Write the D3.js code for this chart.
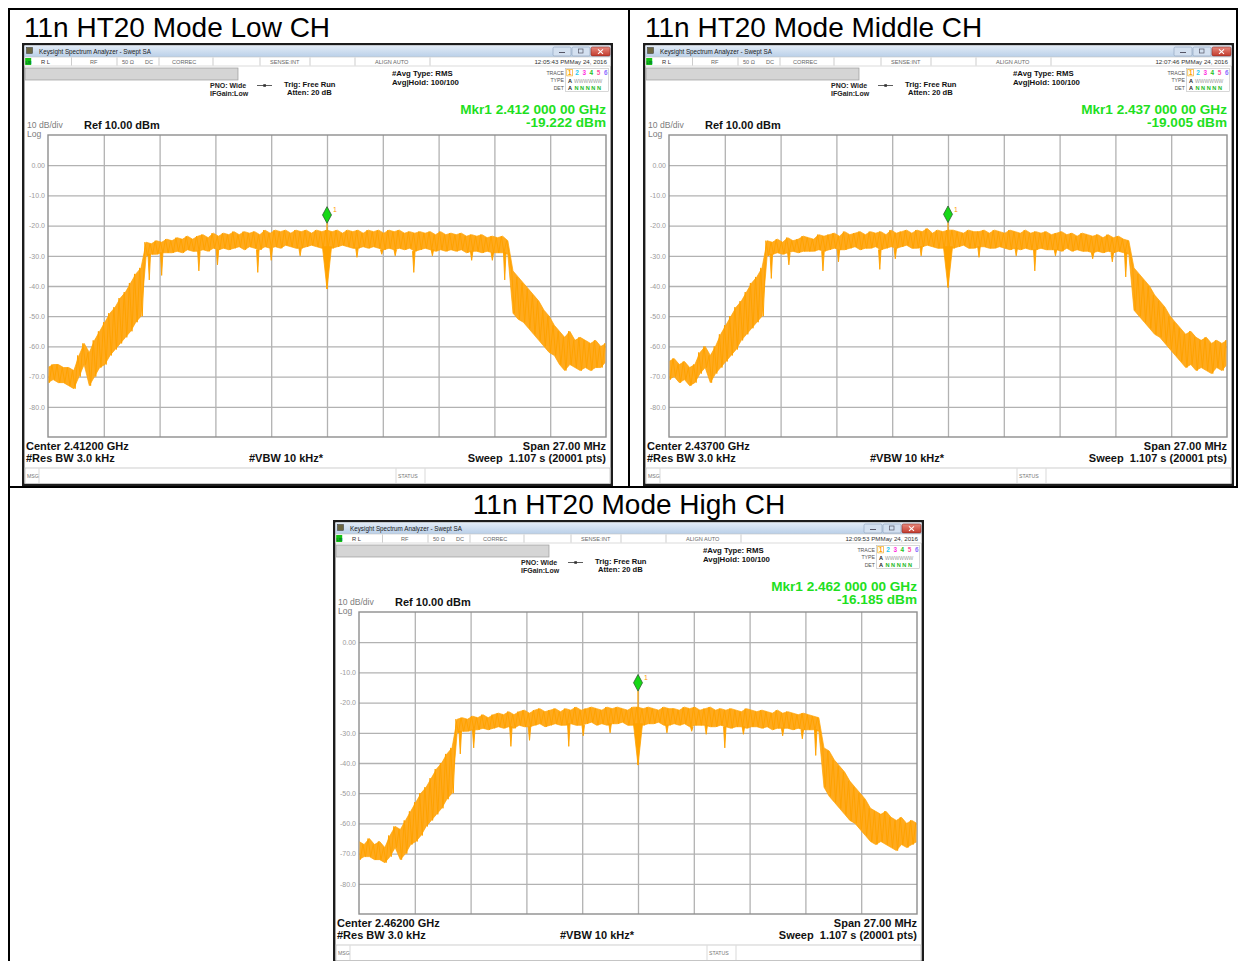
<!DOCTYPE html>
<html>
<head>
<meta charset="utf-8">
<script src="https://cdn.jsdelivr.net/npm/d3@7"></script>
<style>
  body { margin: 0; background: #fff; }
  svg { display: block; }
  text { font-family: "Liberation Sans", Arial, Helvetica, sans-serif; }
</style>
</head>
<body>
<svg id="sheet" width="1239" height="961"></svg>
<script>
// ---- Sweep grid: 27 MHz span around the channel centre, one bin per 0.25 MHz ----
const sweepMHz = d3.range(-13.5, 13.5 + 1e-9, 0.25);
const BIN = 0.25;

// Y axis: Ref 10 dBm, 10 dB/div
const yTickValues = [0, -10, -20, -30, -40, -50, -60, -70, -80];
const yTickLabels = ["0.00", "-10.0", "-20.0", "-30.0", "-40.0", "-50.0", "-60.0", "-70.0", "-80.0"];
const xDivisions = [-10.8, -8.1, -5.4, -2.7, 0, 2.7, 5.4, 8.1, 10.8];

// ---- Low channel (2412 MHz): per-bin peak / valley of the trace, dBm ----
const lowPeak = [
  -67, -66, -66, -67, -67, -68, -63, -59, -62, -58, -55, -52, -49, -47, -44, -42, -39, -36, -34,
  -25.5, -26, -25, -25.5, -24.5, -25, -24, -24.5, -23.5, -24.5, -23.5, -23, -24, -22.5, -23.5, -22.5, -23, -22, -23, -22, -22.5, -22, -23, -21.5, -22.5, -21.5, -22, -21.5, -22.5, -21.5, -22, -21.5, -22.5, -21.5, -22,
  -21.5,
  -22, -21.5, -22.5, -21.5, -22, -21.5, -22.5, -21.5, -22, -21.5, -22.5, -21.5, -22, -21.5, -22.5, -22, -22.5, -22, -22.5, -22, -23, -22, -23, -22.5, -23, -22.5, -23.5, -23, -23.5, -23, -24, -23.5, -24, -23.5, -25,
  -35, -37, -39, -41, -43, -45, -48, -50, -53, -55, -57, -55, -58, -57, -58, -59, -58, -60, -59
];
const lowValley = [
  -72, -71, -72, -72, -73, -74, -70, -66, -73, -70, -67, -66, -63, -61, -59, -57, -55, -52, -50,
  -30, -29.5, -29.5, -29, -29, -29, -28.5, -29, -28, -28.5, -28.5, -28, -28.5, -27.5, -28, -27.5, -28, -27.5, -27, -28, -27, -27.5, -28, -27, -27.5, -27, -27.5, -26.5, -27, -27.5, -27.5, -27, -26.5, -27, -27.5,
  -27,
  -27.5, -27, -26.5, -27, -27.5, -27.5, -27, -27.5, -27, -27.5, -28, -27.5, -28, -27.5, -28, -27.5, -28.5, -28, -27.5, -28, -28.5, -28, -28.5, -28, -28.5, -28, -29, -28.5, -28.5, -29, -28.5, -29, -29, -29, -29.5,
  -49, -51, -52, -54, -56, -58, -60, -62, -63, -66, -68, -66, -67, -68, -67, -68, -67, -67, -65
];
const lowDipMHz = [-8.6, -8.0, -6.2, -5.3, -3.35, -2.7, -1.3, 1.45, 2.65, 3.3, 4.2, 5.1, 7.0, 8.0, 8.6];
const lowDipDbm = [-38, -36.5, -35, -33, -35.5, -31.5, -30, -30.5, -29.5, -30, -35.5, -30, -31.5, -31.5, -38];
const lowCentreDip = -41;
const lowMarker = -19.222;

// ---- Middle channel (2437 MHz) ----
const midPeak = [
  -65, -64, -66, -65, -67, -66, -62, -60, -63, -60, -56, -53, -50, -47, -45, -42, -39, -37, -34,
  -25, -25.5, -24.5, -25.5, -24, -25, -24.5, -23.5, -24, -24.5, -23, -23.5, -23, -22.5, -23.5, -22, -23, -22.5, -22, -23, -22, -22.5, -22, -23, -21.5, -22.5, -22, -21.5, -22.5, -21.5, -22, -21, -22.5, -21.5, -22,
  -21.5,
  -21.5, -22, -22.5, -21.5, -22, -22, -21.5, -22.5, -21.5, -22, -22.5, -21.5, -22, -22.5, -21.5, -22.5, -22, -22.5, -22, -23, -22.5, -22, -23, -22.5, -23.5, -22.5, -23, -23.5, -23, -24, -23, -24, -23.5, -24.5, -25,
  -34, -36, -38, -40, -43, -45, -47, -50, -52, -54, -56, -55, -57, -58, -57, -59, -58, -59, -58
];
const midValley = [
  -71, -70, -72, -71, -73, -72, -69, -67, -72, -69, -67, -65, -63, -61, -58, -56, -54, -52, -50,
  -30, -29.5, -29, -29.5, -29, -28.5, -29, -28.5, -28.5, -28.5, -28, -28.5, -28, -27.5, -28, -28, -27.5, -27, -28, -27.5, -27.5, -27, -28, -27.5, -27, -27.5, -27, -26.5, -27.5, -27.5, -27, -26.5, -27, -27.5, -27.5,
  -27,
  -27.5, -27, -26.5, -27.5, -27.5, -27, -27, -27.5, -27.5, -27, -27.5, -28, -27.5, -28, -27.5, -28, -28, -27.5, -28, -28, -28, -28.5, -27.5, -28.5, -28, -28.5, -28.5, -29, -28.5, -29, -28.5, -29, -28.5, -29, -29.5,
  -48, -50, -52, -54, -56, -57, -59, -61, -63, -65, -67, -66, -68, -67, -68, -69, -67, -68, -66
];
const midDipMHz = [-8.55, -7.7, -6.05, -5.3, -3.3, -2.55, -1.3, 1.5, 3.3, 4.2, 5.2, 7.0, 7.95, 8.6];
const midDipDbm = [-37.5, -33, -35, -32, -34.5, -31, -30, -30.5, -30, -35, -30, -31, -32, -37];
const midCentreDip = -40.5;
const midMarker = -19.005;

// ---- High channel (2462 MHz) ----
const highPeak = [
  -66, -67, -65, -67, -66, -68, -64, -61, -62, -59, -56, -53, -50, -48, -45, -42, -40, -37, -35,
  -25.5, -25, -25.5, -24.5, -25, -24, -25, -24, -23.5, -24, -23, -24, -23, -22.5, -23.5, -22.5, -22, -23, -22.5, -22, -23, -22, -22.5, -21.5, -22.5, -22, -21.5, -22, -22.5, -21.5, -22, -21.5, -22, -22.5, -21.5,
  -21.5,
  -22, -21.5, -22, -22.5, -21.5, -22, -22, -22.5, -21.5, -22, -21.5, -22.5, -22, -21.5, -22.5, -22, -22.5, -22, -22.5, -23, -22, -22.5, -23, -22.5, -23, -23.5, -22.5, -23.5, -23, -23.5, -24, -23.5, -24, -24.5, -25,
  -35, -36, -39, -41, -43, -46, -48, -50, -52, -55, -56, -57, -56, -58, -59, -58, -60, -59, -60
];
const highValley = [
  -72, -71, -71, -72, -72, -73, -71, -68, -72, -70, -67, -66, -64, -61, -59, -57, -55, -52, -50,
  -30, -29.5, -29.5, -29, -29, -28.5, -29, -28.5, -28, -28.5, -28, -28.5, -27.5, -28, -28, -27.5, -27, -28, -27.5, -27, -27.5, -27.5, -27, -27.5, -27.5, -27, -26.5, -27.5, -27, -27.5, -27, -27, -26.5, -27.5, -27.5,
  -27,
  -27.5, -27, -27, -26.5, -27.5, -27.5, -27, -27.5, -27, -28, -27.5, -27.5, -27.5, -28, -28, -27.5, -28, -28.5, -28, -28, -28.5, -28, -28, -28.5, -28, -29, -28.5, -28.5, -28.5, -29, -28.5, -29, -29, -29, -29.5,
  -48, -51, -53, -55, -57, -59, -60, -62, -64, -66, -67, -66, -67, -68, -69, -67, -68, -67, -66
];
const highDipMHz = [-8.6, -7.95, -6.15, -5.25, -3.35, -2.65, -1.35, 1.4, 2.6, 3.3, 4.2, 5.1, 7.0, 7.95, 8.6];
const highDipDbm = [-37, -35, -34.5, -32.5, -34.5, -31, -30, -30, -29.5, -30.5, -35, -30.5, -31, -32, -37.5];
const highCentreDip = -40.7;
const highMarker = -16.185;

const captions = ["11n HT20 Mode Low CH", "11n HT20 Mode Middle CH", "11n HT20 Mode High CH"];

const panels = [
  { ox: 22, oy: 43, centre: "2.41200", mkrFreq: "2.412 000 00", time: "12:05:43 PM",
    peak: lowPeak, valley: lowValley, dipF: lowDipMHz, dipL: lowDipDbm, centreDip: lowCentreDip, marker: lowMarker },
  { ox: 643, oy: 43, centre: "2.43700", mkrFreq: "2.437 000 00", time: "12:07:46 PM",
    peak: midPeak, valley: midValley, dipF: midDipMHz, dipL: midDipDbm, centreDip: midCentreDip, marker: midMarker },
  { ox: 333, oy: 520, centre: "2.46200", mkrFreq: "2.462 000 00", time: "12:09:53 PM",
    peak: highPeak, valley: highValley, dipF: highDipMHz, dipL: highDipDbm, centreDip: highCentreDip, marker: highMarker }
];
panels.forEach(p => {
  if (p.peak.length !== sweepMHz.length || p.valley.length !== sweepMHz.length)
    throw new Error("trace length " + p.peak.length + "/" + p.valley.length);
});

const ORANGE = "#ffa200";
const ORANGE_FILL = "#ffaa1e";
const MKR_GREEN = "#1ee01e";
const svg = d3.select("#sheet");

// shared gradients
const defs = svg.append("defs");
const tb = defs.append("linearGradient").attr("id", "titlebar").attr("x1", 0).attr("y1", 0).attr("x2", 0).attr("y2", 1);
tb.append("stop").attr("offset", "0%").attr("stop-color", "#e3ecf7");
tb.append("stop").attr("offset", "100%").attr("stop-color", "#b9cfe8");
const cb = defs.append("linearGradient").attr("id", "closebtn").attr("x1", 0).attr("y1", 0).attr("x2", 0).attr("y2", 1);
cb.append("stop").attr("offset", "0%").attr("stop-color", "#e8897e");
cb.append("stop").attr("offset", "100%").attr("stop-color", "#c23a2c");

// ---- Document table ----
const table = svg.append("g").attr("stroke", "#000").attr("stroke-width", 2);
table.append("line").attr("x1", 8).attr("y1", 9).attr("x2", 1238).attr("y2", 9);
table.append("line").attr("x1", 9).attr("y1", 8).attr("x2", 9).attr("y2", 961);
table.append("line").attr("x1", 629).attr("y1", 8).attr("x2", 629).attr("y2", 487);
table.append("line").attr("x1", 8).attr("y1", 487).attr("x2", 1238).attr("y2", 487);
table.append("line").attr("x1", 1237).attr("y1", 8).attr("x2", 1237).attr("y2", 487);

svg.append("text").attr("x", 24).attr("y", 37).attr("font-size", 28).attr("fill", "#000").text(captions[0]);
svg.append("text").attr("x", 645).attr("y", 37).attr("font-size", 28).attr("fill", "#000").text(captions[1]);
svg.append("text").attr("x", 629).attr("y", 514).attr("font-size", 28).attr("text-anchor", "middle").attr("fill", "#000").text(captions[2]);

// ---- One analyzer window ----
const PW = 591, PH = 443;
const plotL = 26, plotR = 584, plotT = 92, plotB = 394;

function txt(g, x, y, s, size, opts = {}) {
  return g.append("text").attr("x", x).attr("y", y).attr("font-size", size)
    .attr("font-weight", opts.bold ? "bold" : null)
    .attr("fill", opts.fill || "#111")
    .attr("text-anchor", opts.anchor || "start")
    .attr("xml:space", "preserve")
    .text(s);
}

function drawPanel(p, idx) {
  const g = svg.append("g").attr("transform", `translate(${p.ox},${p.oy})`);

  // frame
  g.append("rect").attr("x", 1.2).attr("y", 1.2).attr("width", PW - 2.4).attr("height", PH - 2.4)
    .attr("fill", "#fff").attr("stroke", "#1c1c1c").attr("stroke-width", 2.4);

  // title bar
  g.append("rect").attr("x", 2.5).attr("y", 2.5).attr("width", PW - 5).attr("height", 11.5).attr("fill", "url(#titlebar)");
  g.append("rect").attr("x", 4.5).attr("y", 4.5).attr("width", 6).attr("height", 6).attr("fill", "#6b6640").attr("stroke", "#333").attr("stroke-width", 0.5);
  txt(g, 17, 10.6, "Keysight Spectrum Analyzer - Swept SA", 6.3, { fill: "#1a1a1a" });
  // window buttons
  [531, 550].forEach(bx => {
    g.append("rect").attr("x", bx).attr("y", 4).attr("width", 18).attr("height", 9).attr("rx", 1.5)
      .attr("fill", "#d3e0f0").attr("stroke", "#8aa0bb").attr("stroke-width", 0.6);
  });
  g.append("line").attr("x1", 537).attr("y1", 9.5).attr("x2", 543).attr("y2", 9.5).attr("stroke", "#556").attr("stroke-width", 1);
  g.append("rect").attr("x", 556.5).attr("y", 6).attr("width", 4.5).attr("height", 4).attr("fill", "none").attr("stroke", "#556").attr("stroke-width", 0.7);
  g.append("rect").attr("x", 569).attr("y", 4).attr("width", 19).attr("height", 9).attr("rx", 1.5)
    .attr("fill", "url(#closebtn)").attr("stroke", "#8a2a20").attr("stroke-width", 0.6);
  g.append("path").attr("d", "M576,6.3L581,10.8M581,6.3L576,10.8").attr("stroke", "#fff").attr("stroke-width", 1.1);

  // status row
  g.append("rect").attr("x", 2.5).attr("y", 14).attr("width", PW - 5).attr("height", 9)
    .attr("fill", "#fff").attr("stroke", "#c4c4c4").attr("stroke-width", 0.6);
  g.append("rect").attr("x", 3.2).attr("y", 15).attr("width", 6).attr("height", 7).attr("fill", "#13c213");
  txt(g, 3.6, 20.6, "LXI", 3.6, { fill: "#063", bold: true });
  [49.5, 95, 137, 191, 238, 288, 333, 408].forEach(dx => {
    g.append("line").attr("x1", dx).attr("y1", 14.5).attr("x2", dx).attr("y2", 22.5).attr("stroke", "#b8b8b8").attr("stroke-width", 0.7);
  });
  txt(g, 19, 20.8, "R L", 5.8, { fill: "#333" });
  txt(g, 68, 20.8, "RF", 5.6, { fill: "#666" });
  txt(g, 100, 20.8, "50 Ω", 5.6, { fill: "#666" });
  txt(g, 123, 20.8, "DC", 5.6, { fill: "#666" });
  txt(g, 150, 20.8, "CORREC", 5.6, { fill: "#666" });
  txt(g, 248, 20.8, "SENSE:INT", 5.6, { fill: "#666" });
  txt(g, 353, 20.8, "ALIGN AUTO", 5.6, { fill: "#666" });
  txt(g, 585, 20.8, p.time + "May 24, 2016", 6.2, { fill: "#333", anchor: "end" });

  // gray entry bar
  g.append("rect").attr("x", 3).attr("y", 25).attr("width", 213).attr("height", 12)
    .attr("fill", "#d5d5d5").attr("stroke", "#9c9c9c").attr("stroke-width", 0.7);

  // setting annotations
  txt(g, 188, 45, "PNO: Wide", 7, { bold: true, fill: "#222" });
  txt(g, 188, 52.5, "IFGain:Low", 7, { bold: true, fill: "#222" });
  g.append("line").attr("x1", 235).attr("y1", 42.5).attr("x2", 250).attr("y2", 42.5).attr("stroke", "#333").attr("stroke-width", 0.8);
  g.append("rect").attr("x", 241.3).attr("y", 41.2).attr("width", 2.6).attr("height", 2.6).attr("fill", "#333");
  txt(g, 262, 43.5, "Trig: Free Run", 7.6, { bold: true, fill: "#111" });
  txt(g, 265, 52, "Atten: 20 dB", 7.6, { bold: true, fill: "#111" });
  txt(g, 370, 33, "#Avg Type: RMS", 7.8, { bold: true, fill: "#111" });
  txt(g, 370, 41.5, "Avg|Hold: 100/100", 7.8, { bold: true, fill: "#111" });

  // trace table
  txt(g, 542, 31.5, "TRACE", 5.2, { fill: "#555", anchor: "end" });
  txt(g, 542, 39, "TYPE", 5.2, { fill: "#555", anchor: "end" });
  txt(g, 542, 47, "DET", 5.2, { fill: "#555", anchor: "end" });
  g.append("rect").attr("x", 543.5).attr("y", 25.5).attr("width", 43).attr("height", 23)
    .attr("fill", "none").attr("stroke", "#bdbdbd").attr("stroke-width", 0.6);
  const traceColours = ["#ff9c00", "#1ec8f0", "#ff2ce0", "#22c022", "#ff4fa0", "#8c6cff"];
  traceColours.forEach((c, i) => txt(g, 546 + i * 7.2, 32, String(i + 1), 6.4, { fill: c, bold: true }));
  g.append("rect").attr("x", 544.8).attr("y", 26.3).attr("width", 5.6).attr("height", 6.6)
    .attr("fill", "none").attr("stroke", "#f0a000").attr("stroke-width", 0.6);
  txt(g, 546, 39.5, "A", 5.6, { fill: "#222", bold: true });
  txt(g, 552, 39.5, "WWWWWW", 5, { fill: "#9a9a9a" });
  txt(g, 546, 47, "A", 5.6, { fill: "#222", bold: true });
  txt(g, 552.5, 47, "N N N N N", 5.6, { fill: "#22b822", bold: true });

  // marker readout
  txt(g, 584, 71, `Mkr1 ${p.mkrFreq} GHz`, 13.6, { bold: true, fill: MKR_GREEN, anchor: "end" });
  txt(g, 584, 84, `${p.marker.toFixed(3)} dBm`, 13.6, { bold: true, fill: MKR_GREEN, anchor: "end" });

  // scale annotations
  txt(g, 5, 85, "10 dB/div", 8.6, { fill: "#7d7d7d" });
  txt(g, 5, 93.5, "Log", 8.6, { fill: "#7d7d7d" });
  txt(g, 62, 86, "Ref 10.00 dBm", 11, { bold: true, fill: "#111" });

  // scales
  const x = d3.scaleLinear().domain([-13.5, 13.5]).range([plotL, plotR]);
  const y = d3.scaleLinear().domain([10, -90]).range([plotT, plotB]);

  // graticule
  const gridY = g.append("g").attr("transform", `translate(${plotL},0)`)
    .call(d3.axisLeft(y).tickValues(yTickValues).tickSize(-(plotR - plotL)).tickFormat(""));
  gridY.select(".domain").remove();
  gridY.selectAll("line").attr("stroke", "#b2b2b2").attr("stroke-width", 1.3);
  const gridX = g.append("g").attr("transform", `translate(0,${plotB})`)
    .call(d3.axisBottom(x).tickValues(xDivisions).tickSize(-(plotB - plotT)).tickFormat(""));
  gridX.select(".domain").remove();
  gridX.selectAll("line").attr("stroke", "#b2b2b2").attr("stroke-width", 1.3);
  g.append("rect").attr("x", plotL).attr("y", plotT).attr("width", plotR - plotL).attr("height", plotB - plotT)
    .attr("fill", "none").attr("stroke", "#8e8e8e").attr("stroke-width", 1.4);

  // y labels
  const yAx = g.append("g").attr("transform", `translate(${plotL - 2},0)`)
    .call(d3.axisLeft(y).tickValues(yTickValues).tickSize(0).tickPadding(1)
      .tickFormat((d, i) => yTickLabels[i]));
  yAx.select(".domain").remove();
  yAx.selectAll("text").attr("font-size", 7).attr("fill", "#9a9a9a")
    .attr("font-family", "'Liberation Sans', Arial, sans-serif");

  // trace
  const clipId = "plotclip" + idx;
  g.append("clipPath").attr("id", clipId).append("rect")
    .attr("x", plotL + 0.7).attr("y", plotT + 0.7).attr("width", plotR - plotL - 1.4).attr("height", plotB - plotT - 1.4);
  const tg = g.append("g").attr("clip-path", `url(#${clipId})`);
  const bins = sweepMHz.map((f, i) => ({ f, hi: p.peak[i], lo: p.valley[i] }));

  // envelope of the swept points in each bin
  tg.append("path").datum(bins)
    .attr("d", d3.area().x(d => x(d.f)).y0(d => y(d.lo)).y1(d => y(d.hi)))
    .attr("fill", ORANGE_FILL).attr("stroke", ORANGE).attr("stroke-width", 0.7).attr("stroke-linejoin", "round");

  // the sweep itself, swinging between peak and valley inside each bin
  const swing = [];
  bins.forEach(d => {
    swing.push([d.f - BIN / 4, d.hi]);
    swing.push([d.f + BIN / 4, d.lo]);
  });
  tg.append("path").attr("d", d3.line().x(d => x(d[0])).y(d => y(d[1]))(swing))
    .attr("fill", "none").attr("stroke", ORANGE).attr("stroke-width", 1).attr("stroke-linejoin", "round");

  // narrow notches between sub-carriers
  p.dipF.forEach((f, k) => {
    const i = d3.minIndex(sweepMHz, s => Math.abs(s - f));
    const top = bins[i].lo;
    tg.append("path")
      .attr("d", `M${x(f - 0.06)},${y(top)}L${x(f)},${y(p.dipL[k])}L${x(f + 0.06)},${y(top)}Z`)
      .attr("fill", ORANGE).attr("stroke", ORANGE).attr("stroke-width", 0.9).attr("stroke-linejoin", "round");
  });

  // DC notch at centre and the marker peak
  const ci = d3.minIndex(sweepMHz, s => Math.abs(s));
  tg.append("path")
    .attr("d", `M${x(-0.22)},${y(bins[ci].lo)}L${x(0)},${y(p.centreDip)}L${x(0.22)},${y(bins[ci].lo)}Z`)
    .attr("fill", ORANGE).attr("stroke", ORANGE).attr("stroke-width", 0.8);
  tg.append("line").attr("x1", x(0)).attr("x2", x(0)).attr("y1", y(p.marker)).attr("y2", y(p.centreDip))
    .attr("stroke", ORANGE).attr("stroke-width", 1.2);

  // marker diamond
  const mx = x(0), my = y(p.marker);
  g.append("path").attr("d", `M${mx},${my}L${mx - 4.5},${my - 8.3}L${mx},${my - 16.6}L${mx + 4.5},${my - 8.3}Z`)
    .attr("fill", "#16d816").attr("stroke", "#2f5f2f").attr("stroke-width", 0.8);
  txt(g, mx + 6, my - 11, "1", 7, { fill: "#ff9c00" });

  // bottom annotations
  txt(g, 4, 407, `Center ${p.centre} GHz`, 11, { bold: true, fill: "#111" });
  txt(g, 4, 419, "#Res BW 3.0 kHz", 11, { bold: true, fill: "#111" });
  txt(g, 227, 419, "#VBW 10 kHz*", 11, { bold: true, fill: "#111" });
  txt(g, 584, 407, "Span 27.00 MHz", 11, { bold: true, fill: "#111", anchor: "end" });
  txt(g, 584, 419, "Sweep  1.107 s (20001 pts)", 11, { bold: true, fill: "#111", anchor: "end" });

  // message / status bar
  g.append("rect").attr("x", 3).attr("y", 425).attr("width", PW - 6).attr("height", 15.5)
    .attr("fill", "#fff").attr("stroke", "#c2c2c2").attr("stroke-width", 0.8);
  [17, 374, 403].forEach(dx => {
    g.append("line").attr("x1", dx).attr("y1", 425.5).attr("x2", dx).attr("y2", 440).attr("stroke", "#cfcfcf").attr("stroke-width", 0.8);
  });
  txt(g, 5, 435, "MSG", 5.2, { fill: "#777" });
  txt(g, 376, 435, "STATUS", 5.2, { fill: "#777" });
}

panels.forEach(drawPanel);
</script>
</body>
</html>
